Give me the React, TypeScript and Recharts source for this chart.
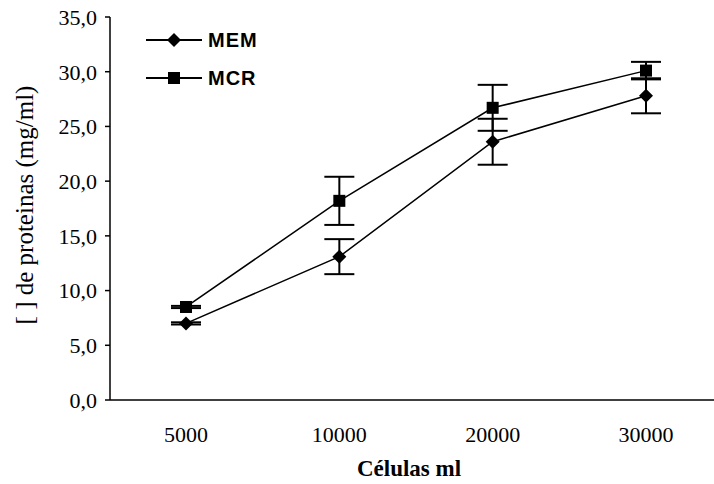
import React from 'react';
import { LineChart, Line, XAxis, YAxis, ErrorBar } from 'recharts';

const categories = ['5000', '10000', '20000', '30000'];
const memValues = [7.0, 13.1, 23.6, 27.8];
const memErrors = [0.1, 1.6, 2.1, 1.6];
const mcrValues = [8.5, 18.2, 26.7, 30.1];
const mcrErrors = [0.1, 2.2, 2.1, 0.8];
const yTicks = [0, 5, 10, 15, 20, 25, 30, 35];

const data = categories.map((c, i) => ({
  cells: c,
  mem: memValues[i],
  memErr: memErrors[i],
  mcr: mcrValues[i],
  mcrErr: mcrErrors[i],
}));

const serif = '"Liberation Serif", "Times New Roman", serif';
const sans = '"Liberation Sans", Arial, sans-serif';

function Diamond(props: any) {
  const { cx, cy, index } = props;
  if (cx == null || cy == null) return null;
  const r = 7;
  return (
    <path
      key={`d-${index}`}
      d={`M${cx},${cy - r}L${cx + r},${cy}L${cx},${cy + r}L${cx - r},${cy}Z`}
      fill="#000"
    />
  );
}

function Square(props: any) {
  const { cx, cy, index } = props;
  if (cx == null || cy == null) return null;
  const s = 6;
  return <rect key={`s-${index}`} x={cx - s} y={cy - s} width={s * 2} height={s * 2} fill="#000" />;
}

// legend drawn as plain html over the chart
function LegendBox() {
  const items = [
    { name: 'MEM', shape: 'diamond' },
    { name: 'MCR', shape: 'square' },
  ];
  return (
    <div style={{ position: 'absolute', left: 146, top: 21 }}>
      {items.map((it) => (
        <div key={it.name} style={{ display: 'flex', alignItems: 'center', height: 38 }}>
          <svg width={56} height={16}>
            <line x1={0} y1={8} x2={56} y2={8} stroke="#000" strokeWidth={2} />
            {it.shape === 'diamond' ? (
              <path d="M28,1L35,8L28,15L21,8Z" fill="#000" />
            ) : (
              <rect x={22} y={2} width={12} height={12} fill="#000" />
            )}
          </svg>
          <span
            style={{
              marginLeft: 6,
              fontFamily: sans,
              fontWeight: 'bold',
              fontSize: 20,
              color: '#000',
              letterSpacing: 1,
            }}
          >
            {it.name}
          </span>
        </div>
      ))}
    </div>
  );
}

export default function App() {
  return (
    <div
      style={{
        position: 'absolute',
        left: 0,
        top: 0,
        width: 714,
        height: 484,
        overflow: 'hidden',
        background: '#fff',
      }}
    >
      <LineChart width={722} height={484} data={data} margin={{ top: 17, right: 0, left: 0, bottom: 0 }}>
        <XAxis
          dataKey="cells"
          height={84}
          padding={{ left: 76, right: 76 }}
          axisLine={{ stroke: '#000', strokeWidth: 1.5 }}
          tickLine={false}
          tickSize={0}
          tickMargin={26}
          tick={{ fill: '#000', fontFamily: serif, fontSize: 22 }}
          label={{
            value: 'Células ml',
            position: 'insideBottom',
            offset: 8,
            dx: -7,
            fill: '#000',
            fontFamily: serif,
            fontSize: 23,
            fontWeight: 'bold',
          }}
        />
        <YAxis
          width={110}
          domain={[0, 35]}
          ticks={yTicks}
          interval={0}
          axisLine={{ stroke: '#000', strokeWidth: 1.5 }}
          tickLine={{ stroke: '#000', strokeWidth: 1.5 }}
          tickSize={5}
          tickMargin={8}
          tickFormatter={(v: number) => v.toFixed(1).replace('.', ',')}
          tick={{ fill: '#000', fontFamily: serif, fontSize: 22 }}
          label={{
            content: () => (
              <text
                x={27}
                y={205}
                transform="rotate(-90, 27, 205)"
                textAnchor="middle"
                dominantBaseline="middle"
                fill="#000"
                fontFamily={serif}
                fontSize={25}
              >
                [ ] de proteinas (mg/ml)
              </text>
            ),
          }}
        />
        <Line
          dataKey="mcr"
          name="MCR"
          stroke="#000"
          strokeWidth={1.5}
          dot={Square}
          activeDot={false}
          isAnimationActive={false}
        >
          <ErrorBar dataKey="mcrErr" direction="y" width={15} stroke="#000" strokeWidth={2} />
        </Line>
        <Line
          dataKey="mem"
          name="MEM"
          stroke="#000"
          strokeWidth={1.5}
          dot={Diamond}
          activeDot={false}
          isAnimationActive={false}
        >
          <ErrorBar dataKey="memErr" direction="y" width={15} stroke="#000" strokeWidth={2} />
        </Line>
      </LineChart>
      <LegendBox />
    </div>
  );
}
